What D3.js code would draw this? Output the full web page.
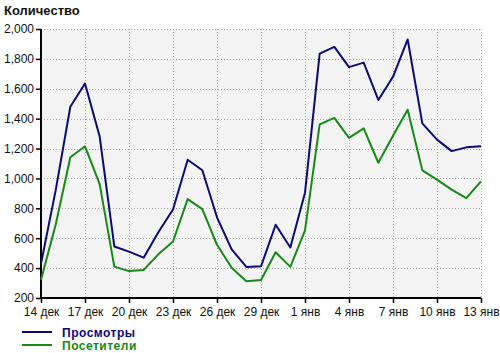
<!DOCTYPE html>
<html>
<head>
<meta charset="utf-8">
<script src="https://cdn.jsdelivr.net/npm/d3@7"></script>
<style>
  body { margin: 0; background: #fff; }
  svg { display: block; font-family: "Liberation Sans", Arial, sans-serif; }
</style>
</head>
<body>
<svg id="chart" width="500" height="353"></svg>
<script>
"use strict";

// Daily values, 14 Dec .. 13 Jan
const startDate = new Date(2008, 11, 14);
const views = [430, 920, 1480, 1635, 1280, 545, 510, 470, 640, 792, 1125, 1055,
    740, 525, 408, 412, 690, 538, 905, 1835, 1880, 1745, 1775, 1525, 1680, 1930,
    1368, 1260, 1183, 1208, 1215];
const visitors = [322, 690, 1142, 1215, 962, 410, 380, 388, 492, 578, 862, 795,
    556, 402, 312, 320, 506, 408, 652, 1362, 1405, 1272, 1335, 1105, 1285, 1460,
    1054, 992, 925, 868, 980];
const yTicks = [200, 400, 600, 800, 1000, 1200, 1400, 1600, 1800, 2000];
const monthNames = ['янв', 'фев', 'мар', 'апр', 'май', 'июн', 'июл', 'авг', 'сен', 'окт', 'ноя', 'дек'];
const series = [
    { label: 'Просмотры', values: views, color: '#0a0a7a' },
    { label: 'Посетители', values: visitors, color: '#168a16' }
];

const svg = d3.select('#chart');
const m = { left: 41, right: 481, top: 29, bottom: 298 };

const dates = views.map((v, i) => d3.timeDay.offset(startDate, i));

const x = d3.scaleTime()
    .domain([dates[0], dates[dates.length - 1]])
    .range([m.left, m.right]);
const y = d3.scaleLinear()
    .domain([200, 2000])
    .range([m.bottom, m.top]);

const xTicks = dates.filter((d, i) => i % 3 === 0);

// plot background
svg.append('rect')
    .attr('x', m.left).attr('y', m.top)
    .attr('width', m.right - m.left).attr('height', m.bottom - m.top)
    .attr('fill', '#f4f4f4');

// grid
const grid = svg.append('g')
    .attr('stroke', '#a8a8a8')
    .attr('stroke-dasharray', '1,2');
grid.selectAll('line.h')
    .data(yTicks.slice(1))
    .enter().append('line')
        .attr('x1', m.left).attr('x2', m.right)
        .attr('y1', d => Math.round(y(d)) + 0.5)
        .attr('y2', d => Math.round(y(d)) + 0.5);
grid.selectAll('line.v')
    .data(xTicks.slice(1))
    .enter().append('line')
        .attr('y1', m.top).attr('y2', m.bottom)
        .attr('x1', d => Math.round(x(d)) + 0.5)
        .attr('x2', d => Math.round(x(d)) + 0.5);

// axes
const yAxis = svg.append('g')
    .attr('transform', `translate(${m.left},0)`)
    .call(d3.axisLeft(y).tickValues(yTicks).tickSize(5).tickPadding(2)
        .tickFormat(d3.format(',')));
const xAxis = svg.append('g')
    .attr('transform', `translate(0,${m.bottom})`)
    .call(d3.axisBottom(x).tickValues(xTicks).tickSize(5).tickPadding(4)
        .tickFormat(d => d.getDate() + ' ' + monthNames[d.getMonth()]));

[xAxis, yAxis].forEach(a => {
    a.select('.domain').attr('stroke', '#000').attr('stroke-width', 2);
    a.selectAll('.tick line').attr('stroke', '#000').attr('stroke-width', 1.5);
    a.selectAll('text').attr('font-size', 12).attr('fill', '#111');
});
yAxis.select('.domain').attr('d', `M0,${m.bottom + 1}V${m.top}`);
xAxis.select('.domain').attr('d', `M${m.left - 1},0H${m.right}`);

// lines
const line = d3.line()
    .x((d, i) => x(dates[i]))
    .y(d => y(d));
svg.selectAll('path.series')
    .data(series)
    .enter().append('path')
        .attr('class', 'series')
        .attr('fill', 'none')
        .attr('stroke', d => d.color)
        .attr('stroke-width', 2)
        .attr('stroke-linejoin', 'round')
        .attr('d', d => line(d.values));

// title
svg.append('text')
    .attr('x', 4).attr('y', 15)
    .attr('font-size', 13).attr('font-weight', 'bold')
    .attr('fill', '#111')
    .text('Количество');

// legend
const legend = svg.selectAll('g.legend')
    .data(series)
    .enter().append('g')
        .attr('transform', (d, i) => `translate(22,${332 + i * 13})`);
legend.append('line')
    .attr('x1', 0).attr('x2', 30)
    .attr('stroke', d => d.color).attr('stroke-width', 2);
legend.append('text')
    .attr('x', 40).attr('y', 4.5)
    .attr('font-size', 12).attr('font-weight', 'bold')
    .attr('letter-spacing', 0.5)
    .attr('fill', d => d.color)
    .text(d => d.label);
</script>
</body>
</html>
